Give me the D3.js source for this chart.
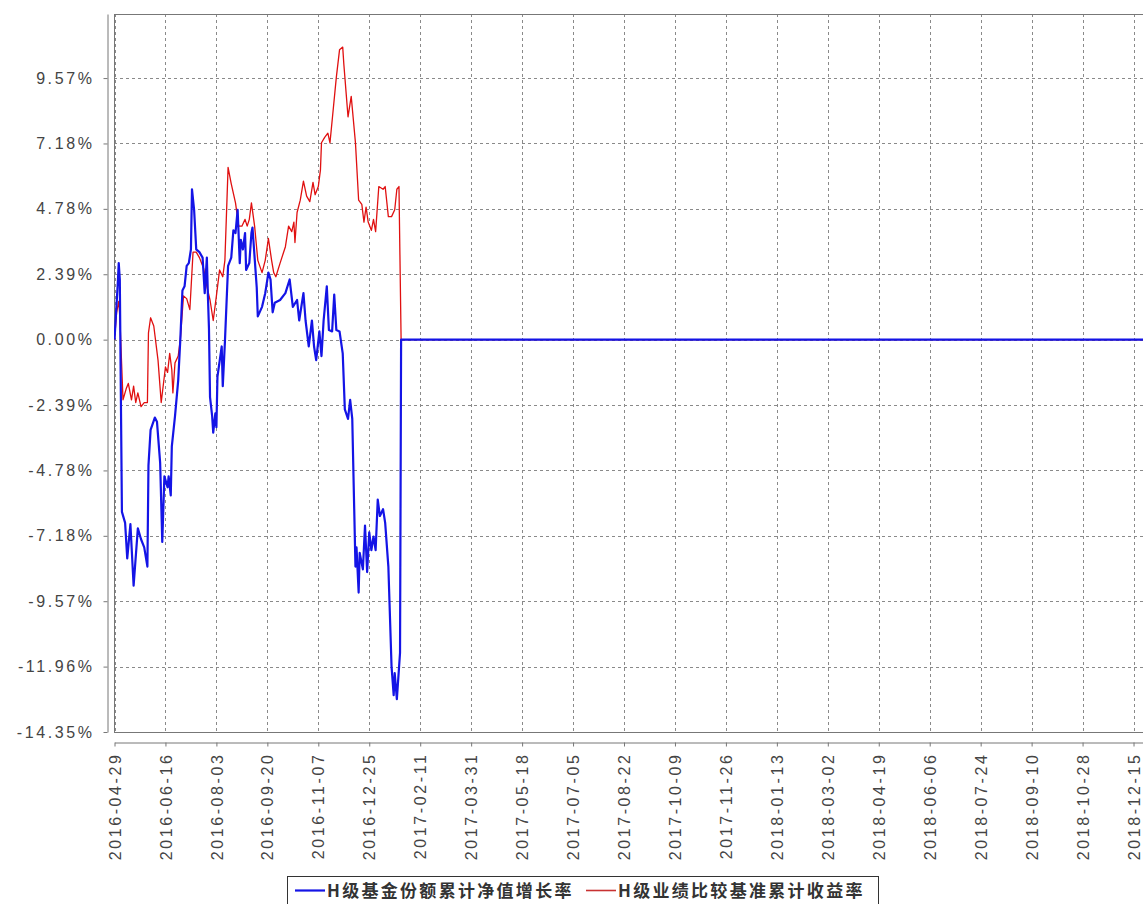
<!DOCTYPE html>
<html>
<head>
<meta charset="utf-8">
<script src="https://cdn.jsdelivr.net/npm/d3@7"></script>
<style>
body { margin: 0; background: #fff; }
svg { display: block; }
.tick text { font-family: "Liberation Sans", Arial, sans-serif; font-size: 16px; fill: #444; letter-spacing: 2.6px; }
</style>
</head>
<body>
<svg id="chart"></svg>
<script>
// tick labels as printed on the chart
var xTickLabels = ["2016-04-29","2016-06-16","2016-08-03","2016-09-20","2016-11-07","2016-12-25",
	"2017-02-11","2017-03-31","2017-05-18","2017-07-05","2017-08-22","2017-10-09","2017-11-26",
	"2018-01-13","2018-03-02","2018-04-19","2018-06-06","2018-07-24","2018-09-10","2018-10-28","2018-12-15"];
var yTickLabels = ["-14.35%","-11.96%","-9.57%","-7.18%","-4.78%","-2.39%","0.00%","2.39%","4.78%","7.18%","9.57%"];
var seriesNames = ["H级基金份额累计净值增长率", "H级业绩比较基准累计收益率"];

// H级基金份额累计净值增长率 (%)
var navDates = ["2016-04-29","2016-05-02","2016-05-03","2016-05-04","2016-05-06","2016-05-09","2016-05-11","2016-05-14",
	"2016-05-17","2016-05-21","2016-05-24","2016-05-27","2016-05-30","2016-05-31","2016-06-02","2016-06-06","2016-06-08",
	"2016-06-11","2016-06-13","2016-06-15","2016-06-18","2016-06-19","2016-06-21","2016-06-22","2016-06-25","2016-06-28",
	"2016-06-30","2016-07-02","2016-07-04","2016-07-06","2016-07-08","2016-07-10","2016-07-11","2016-07-13","2016-07-15",
	"2016-07-18","2016-07-21","2016-07-23","2016-07-25","2016-07-26","2016-07-27","2016-07-28","2016-07-30","2016-07-31",
	"2016-08-02","2016-08-03","2016-08-04","2016-08-08","2016-08-09","2016-08-11","2016-08-14","2016-08-17","2016-08-19",
	"2016-08-21","2016-08-23","2016-08-25","2016-08-26","2016-08-28","2016-08-30","2016-08-31","2016-09-03","2016-09-05",
	"2016-09-06","2016-09-08","2016-09-10","2016-09-11","2016-09-15","2016-09-18","2016-09-21","2016-09-23","2016-09-25",
	"2016-09-27","2016-10-02","2016-10-07","2016-10-11","2016-10-14","2016-10-18","2016-10-20","2016-10-24","2016-10-26",
	"2016-10-29","2016-11-01","2016-11-03","2016-11-05","2016-11-08","2016-11-10","2016-11-12","2016-11-15","2016-11-17",
	"2016-11-20","2016-11-22","2016-11-24","2016-11-27","2016-11-30","2016-12-02","2016-12-05","2016-12-07","2016-12-09",
	"2016-12-12","2016-12-13","2016-12-15","2016-12-16","2016-12-19","2016-12-21","2016-12-23","2016-12-25","2016-12-27",
	"2016-12-29","2016-12-31","2017-01-02","2017-01-04","2017-01-07","2017-01-09","2017-01-12","2017-01-15","2017-01-17",
	"2017-01-18","2017-01-20","2017-01-23","2017-01-24","2018-12-31"];
var navValues = [0,2.0,2.8,2.2,-6.3,-6.7,-8.0,-6.75,
	-9.0,-6.9,-7.3,-7.6,-8.3,-4.6,-3.3,-2.85,-3.0,
	-4.5,-7.4,-5.0,-5.4,-5.0,-5.7,-3.9,-2.8,-1.5,
	0.0,1.8,1.95,2.7,2.8,3.3,5.5,4.75,3.3,
	3.2,3.0,1.7,3.0,1.6,0.4,-2.1,-2.8,-3.4,
	-2.7,-3.2,-1.35,-0.25,-1.7,-0.1,2.7,3.0,4.0,
	3.9,4.75,2.8,3.65,3.3,3.9,2.55,2.8,3.9,
	4.1,3.0,1.9,0.85,1.2,1.7,2.45,2.2,1.0,
	1.35,1.45,1.7,2.2,1.2,1.45,0.7,1.7,0.7,
	-0.25,0.7,-0.25,-0.75,0.3,-0.6,0.7,1.95,0.35,
	0.3,1.65,0.35,0.3,-0.5,-2.55,-2.9,-2.2,-2.9,
	-8.3,-7.6,-9.25,-7.8,-8.4,-6.8,-8.5,-7.05,-7.7,
	-7.2,-7.7,-5.85,-6.45,-6.2,-6.7,-8.3,-11.95,-13.0,
	-12.2,-13.15,-11.45,0,0];

// H级业绩比较基准累计收益率 (%)
var benchDates = ["2016-04-29","2016-05-01","2016-05-03","2016-05-04","2016-05-07","2016-05-10","2016-05-12","2016-05-15",
	"2016-05-17","2016-05-19","2016-05-21","2016-05-24","2016-05-27","2016-05-30","2016-05-31","2016-06-02","2016-06-05",
	"2016-06-09","2016-06-12","2016-06-16","2016-06-18","2016-06-20","2016-06-22","2016-06-23","2016-06-25","2016-06-28",
	"2016-06-30","2016-07-03","2016-07-06","2016-07-09","2016-07-12","2016-07-15","2016-07-18","2016-07-22","2016-07-25",
	"2016-07-28","2016-07-31","2016-08-03","2016-08-06","2016-08-09","2016-08-11","2016-08-14","2016-08-17","2016-08-21",
	"2016-08-24","2016-08-27","2016-08-30","2016-09-01","2016-09-03","2016-09-05","2016-09-08","2016-09-11","2016-09-15",
	"2016-09-18","2016-09-21","2016-09-24","2016-09-26","2016-09-28","2016-10-02","2016-10-07","2016-10-10","2016-10-13",
	"2016-10-15","2016-10-16","2016-10-18","2016-10-21","2016-10-24","2016-10-27","2016-10-30","2016-11-02","2016-11-04",
	"2016-11-07","2016-11-09","2016-11-10","2016-11-13","2016-11-16","2016-11-18","2016-11-21","2016-11-24","2016-11-27",
	"2016-11-30","2016-12-01","2016-12-05","2016-12-08","2016-12-12","2016-12-15","2016-12-18","2016-12-20","2016-12-22",
	"2016-12-24","2016-12-27","2016-12-29","2016-12-31","2017-01-03","2017-01-07","2017-01-09","2017-01-12","2017-01-15",
	"2017-01-18","2017-01-20","2017-01-22","2017-01-24","2018-12-31"];
var benchValues = [0,1.0,1.4,0.85,-2.2,-1.8,-1.6,-2.2,
	-1.7,-2.3,-1.95,-2.45,-2.3,-2.3,0.25,0.8,0.5,
	-0.75,-2.3,-1.0,-1.2,-0.5,-1.1,-1.95,-0.85,-0.6,
	0,1.6,1.5,1.1,3.2,3.2,3.0,2.6,1.95,
	1.45,0.7,1.6,2.55,2.3,2.9,6.3,5.7,5.0,
	4.15,4.15,4.4,4.15,4.4,5.0,4.15,2.9,2.45,
	2.9,3.7,2.9,2.45,2.3,2.8,3.4,4.15,3.95,
	4.3,3.55,4.65,5.1,5.8,5.25,5.05,5.75,5.3,
	5.6,6.2,7.2,7.4,7.55,7.2,8.4,9.6,10.6,
	10.7,10.1,8.15,8.9,7.2,5.1,4.95,4.3,4.85,
	4.3,4.0,4.4,3.95,5.6,5.5,5.6,4.5,4.5,
	4.75,5.5,5.6,0,0];

var width = 1143, height = 904;
var parse = d3.utcParse("%Y-%m-%d");

var svg = d3.select("#chart").attr("width", width).attr("height", height);

var x = d3.scaleUtc()
	.domain([parse("2016-04-29"), parse("2018-12-31")])
	.range([114.5, 1150.5]);
var yStep = 14.35 / 6;
var y = d3.scaleLinear().domain([-14.35, 11.91]).range([732, 14]);

var xTicks = xTickLabels.map(parse);
var yTicks = yTickLabels.map(function(d, i){ return -14.35 + i * yStep; });

// grid
var grid = svg.append("g");
grid.selectAll("line.v").data(xTicks).enter().append("line")
	.attr("x1", function(d){ return Math.round(x(d)) + 0.5; })
	.attr("x2", function(d){ return Math.round(x(d)) + 0.5; })
	.attr("y1", 14).attr("y2", 732)
	.attr("stroke", "#8a8a8a").attr("stroke-dasharray", "3,3");
grid.selectAll("line.h").data(yTicks).enter().append("line")
	.attr("x1", 114).attr("x2", width)
	.attr("y1", function(d){ return Math.round(y(d)) + 0.5; })
	.attr("y2", function(d){ return Math.round(y(d)) + 0.5; })
	.attr("stroke", "#8a8a8a").attr("stroke-dasharray", "3,3");

// plot border
svg.append("rect")
	.attr("x", 114.5).attr("y", 14.5).attr("width", 1040).attr("height", 718)
	.attr("fill", "none").attr("stroke", "#777");

// axes
var yAxis = d3.axisLeft(y).tickValues(yTicks).tickSize(4).tickSizeOuter(0).tickPadding(9)
	.tickFormat(function(d, i){ return yTickLabels[i]; });
var gy = svg.append("g").attr("transform", "translate(107.5,0)").call(yAxis);
gy.selectAll("path, line").attr("stroke", "#777");

var xAxis = d3.axisBottom(x).tickValues(xTicks).tickSize(4).tickSizeOuter(0)
	.tickFormat(function(d, i){ return xTickLabels[i]; });
var gx = svg.append("g").attr("transform", "translate(0,742.5)").call(xAxis);
gx.selectAll("path, line").attr("stroke", "#777");
gx.selectAll("text")
	.attr("y", 0).attr("x", -10).attr("dy", "0.35em")
	.attr("transform", "rotate(-90)")
	.style("text-anchor", "end");

// lines
var line = d3.line()
	.x(function(d){ return x(d.date); })
	.y(function(d){ return y(d.value); });

var bench = benchDates.map(function(d, i){ return {date: parse(d), value: benchValues[i]}; });
var nav = navDates.map(function(d, i){ return {date: parse(d), value: navValues[i]}; });

var clip = svg.append("clipPath").attr("id", "plotclip")
	.append("rect").attr("x", 114).attr("y", 14).attr("width", 1040).attr("height", 719);

svg.append("path").datum(bench)
	.attr("clip-path", "url(#plotclip)")
	.attr("d", line).attr("fill", "none")
	.attr("stroke", "#e01010").attr("stroke-width", 1.3).attr("stroke-linejoin", "round");
svg.append("path").datum(nav)
	.attr("clip-path", "url(#plotclip)")
	.attr("d", line).attr("fill", "none")
	.attr("stroke", "#1414e6").attr("stroke-width", 2.2).attr("stroke-linejoin", "round");

// legend
var legend = svg.append("g");
legend.append("rect")
	.attr("x", 287.5).attr("y", 876.5).attr("width", 591).attr("height", 40)
	.attr("fill", "#fff").attr("stroke", "#333");
var legendItems = [
	{name: seriesNames[0], color: "#1414e6", w: 2.2, x: 295},
	{name: seriesNames[1], color: "#c83232", w: 1.6, x: 586}
];
legendItems.forEach(function(item){
	legend.append("line")
		.attr("x1", item.x).attr("x2", item.x + 30)
		.attr("y1", 890.5).attr("y2", 890.5)
		.attr("stroke", item.color).attr("stroke-width", item.w);
	legend.append("text")
		.attr("x", item.x + 32).attr("y", 897)
		.style("font-family", "'Noto Sans CJK SC', sans-serif")
		.style("font-size", "17px")
		.style("font-weight", "bold")
		.style("letter-spacing", "2.3px")
		.style("fill", "#333")
		.text(item.name);
});
</script>
</body>
</html>
